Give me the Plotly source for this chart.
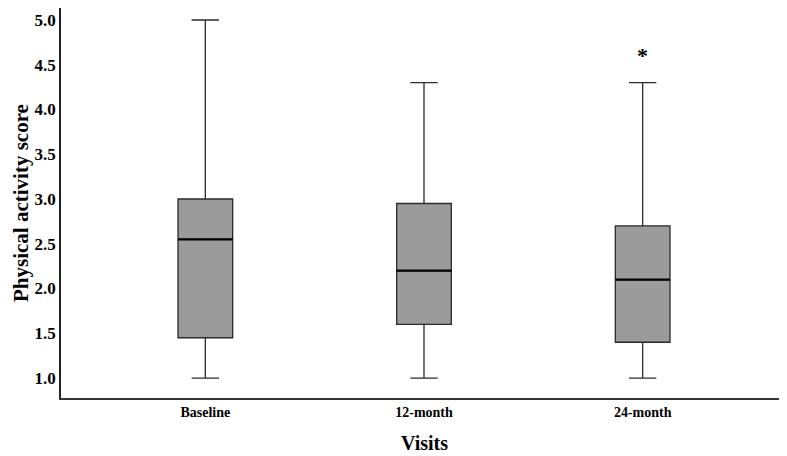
import plotly.graph_objects as go

categories = ["Baseline", "12-month", "24-month"]
lower = [1.0, 1.0, 1.0]
q1 = [1.45, 1.6, 1.4]
median = [2.55, 2.2, 2.1]
q3 = [3.0, 2.95, 2.7]
upper = [5.0, 4.3, 4.3]
yticks = [1.0, 1.5, 2.0, 2.5, 3.0, 3.5, 4.0, 4.5, 5.0]
star_cat = "24-month"
star_y = 4.6

FONT = "Liberation Serif, Times New Roman, serif"

fig = go.Figure()
fig.add_trace(go.Box(
    x=categories, q1=q1, median=median, q3=q3,
    lowerfence=lower, upperfence=upper,
    fillcolor="#9b9b9b",
    line=dict(color="#2b2b2b", width=1.3),
    width=0.25, whiskerwidth=0.5,
    boxpoints=False, showlegend=False, hoverinfo="skip",
))

# thicker median lines
for i, m in enumerate(median):
    fig.add_shape(type="line", xref="x", yref="y",
                  x0=i - 0.125, x1=i + 0.125, y0=m, y1=m,
                  line=dict(color="black", width=2.2))

fig.add_annotation(x=star_cat, y=star_y, text="<b>*</b>", showarrow=False,
                   font=dict(family=FONT, size=22, color="black"),
                   yanchor="middle")

# axis titles placed as annotations
fig.add_annotation(x=0, xref="paper", y=0.5, yref="paper",
                   text="<b>Physical activity score</b>", textangle=-90,
                   showarrow=False, xanchor="center", yanchor="middle", xshift=-40,
                   borderpad=0,
                   font=dict(family=FONT, size=21, color="black"))
fig.add_annotation(x=0.5, xref="paper", y=0, yref="paper",
                   text="<b>Visits</b>", showarrow=False,
                   xanchor="center", yanchor="middle", yshift=-45,
                   borderpad=0,
                   font=dict(family=FONT, size=20, color="black"))

# page body has an 8px default margin, so the figure is sized 8px smaller
fig.update_layout(
    width=779, height=448,
    margin=dict(l=53, r=0, t=0, b=58),
    plot_bgcolor="white", paper_bgcolor="white",
    font=dict(family=FONT, color="black"),
)
fig.update_xaxes(
    type="category", range=[-0.66, 2.66], automargin=False,
    showline=True, linecolor="#333333", linewidth=2,
    showgrid=False, ticks="", zeroline=False,
    tickvals=categories, ticktext=[f"<b>{c}</b>" for c in categories],
    tickfont=dict(family=FONT, size=14, color="black"),
)
fig.update_yaxes(
    range=[0.777, 5.134], tickvals=yticks, automargin=False,
    ticktext=[f"<b>{v:.1f}</b>" for v in yticks],
    showline=True, linecolor="#222222", linewidth=1.5,
    showgrid=False, ticks="", zeroline=False,
    tickfont=dict(family=FONT, size=17, color="black"),
)

fig.write_html("out.html")
